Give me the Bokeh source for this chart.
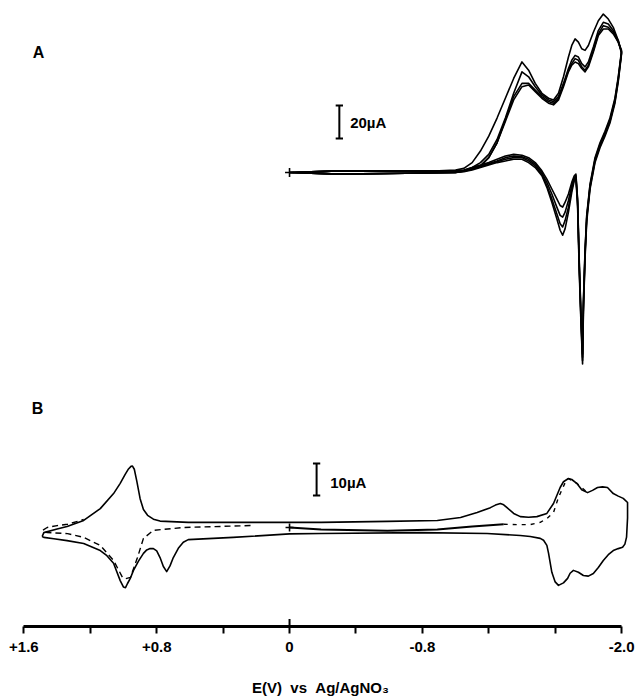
from bokeh.plotting import figure
from bokeh.models import Range1d, FixedTicker, Label
from bokeh.embed import file_html
from bokeh.resources import INLINE

# ---------------- Panel A: repeated scans 0 -> -2.0 V -> 0 (current, uA; cathodic up)
EA_FWD = [0.00, -0.30, -0.60, -0.90, -1.00, -1.05, -1.10, -1.15, -1.20, -1.25, -1.30, -1.35,
          -1.40, -1.44, -1.48, -1.52, -1.56, -1.59, -1.62, -1.65, -1.68, -1.70, -1.72, -1.74,
          -1.76, -1.78, -1.80, -1.83, -1.86, -1.89, -1.92, -1.95, -1.98, -2.00]
IA_FWD_1 = [0, 1, 1, 1, 1.5, 2.5, 6, 13, 22, 33, 45, 57, 67, 62, 54, 48, 45, 44, 48, 58,
            70, 77, 81, 79, 75, 74, 77, 85, 92, 96, 93, 88, 80, 72]
IA_FWD_2 = [0, 1, 1, 1, 1, 1.5, 3, 6, 11, 20, 33, 48, 61, 58, 52, 47, 44, 43, 46, 54,
            63, 68, 71, 70, 66, 64, 67, 76, 86, 91, 90, 86, 80, 73]
IA_FWD_3 = [0, 1, 1, 1, 1, 1.2, 2, 4, 9, 18, 32, 46, 54, 54, 50, 46, 43, 42, 45, 53,
            62, 66, 69, 68, 64, 62, 65, 74, 84, 89, 88, 85, 79, 73]
IA_FWD_4 = [0, 1, 1, 1, 1, 1.2, 2, 4, 9, 18, 31, 44, 52, 53, 49, 45, 42, 41, 44, 52,
            61, 65, 67, 66, 63, 61, 64, 73, 83, 87, 87, 84, 79, 74]

EA_REV = [-2.00, -1.98, -1.96, -1.93, -1.90, -1.87, -1.84, -1.81, -1.79, -1.78,
          -1.77, -1.765, -1.755, -1.745, -1.735, -1.725, -1.715, -1.70, -1.68, -1.66,
          -1.645, -1.63, -1.61, -1.58, -1.55, -1.52, -1.48, -1.44, -1.40, -1.35,
          -1.30, -1.25, -1.20, -1.15, -1.10, -1.05, -1.00, -0.70, -0.30, 0.00]
IA_REV_1 = [72, 55, 42, 30, 22, 15, 6, -10, -30, -52, -85, -116, -90, -60, -20, -4, -5, -12, -24, -34,
            -38, -35, -28, -18, -9, -2, 3, 6, 8, 8, 7, 6, 4.5, 3, 1.5, 0.5, 0, -0.5, -1, 0]
IA_REV_2 = [73, 56, 43, 31, 23, 16, 7, -9, -28, -50, -83, -114, -88, -57, -18, -3, -4, -10, -21, -29,
            -33, -31, -25, -16, -8, -1, 4, 7, 9, 9, 8, 6.5, 5, 3.5, 2, 0.8, 0, -0.5, -1, 0]
IA_REV_3 = [73, 57, 44, 32, 24, 17, 8, -8, -27, -48, -80, -112, -86, -55, -17, -2, -3, -8, -17, -24,
            -27, -26, -21, -13, -6, 0, 5, 8, 9.5, 10, 9, 7, 5.5, 4, 2.5, 1, 0, -0.5, -1, 0]
IA_REV_4 = [74, 58, 45, 33, 25, 18, 9, -7, -26, -47, -78, -110, -84, -53, -16, -1, -2, -6, -13, -18,
            -21, -20, -16, -10, -4, 1, 6, 9, 10.5, 11, 10, 8, 6, 4.5, 3, 1.2, 0, -0.5, -1, 0]

# ---------------- Panel B: full range scan (current, uA)
EB_UP = [1.49, 1.48, 1.40, 1.34, 1.24, 1.14, 1.06, 1.02, 0.99, 0.97, 0.955, 0.946, 0.935, 0.92,
         0.90, 0.88, 0.855, 0.82, 0.78, 0.61, 0.34, 0.0, -0.19, -0.59, -0.89, -1.03, -1.13, -1.21,
         -1.24, -1.27, -1.29, -1.31, -1.35, -1.39, -1.44, -1.49, -1.55, -1.59, -1.63, -1.65,
         -1.68, -1.70, -1.73, -1.76, -1.795, -1.825, -1.855, -1.885, -1.915, -1.95, -1.98,
         -2.01, -2.036]
IB_UP = [-2.8, -1.6, -0.5, 0.3, 2.2, 5.9, 10.6, 13.8, 16.6, 18.3, 19.1, 19.2, 18.2, 14.5,
         9.0, 5.6, 3.8, 2.6, 2.0, 1.6, 1.6, 1.6, 1.6, 1.9, 2.2, 3.1, 4.7, 6.2,
         7.0, 7.5, 7.1, 6.2, 4.4, 3.4, 3.2, 3.4, 4.4, 7.5, 12.5, 14.3,
         15.3, 15.0, 13.8, 11.8, 10.9, 11.6, 12.5, 12.7, 12.5, 10.6, 9.8,
         9.1, 7.8]
EB_DN = [-2.036, -2.03, -2.02, -2.006, -1.98, -1.95, -1.92, -1.89, -1.86, -1.83, -1.80, -1.77,
         -1.74, -1.71, -1.69, -1.675, -1.65, -1.62, -1.60, -1.58, -1.56, -1.55, -1.53, -1.51,
         -1.45, -1.39, -1.19, -0.79, -0.19, 0.0, 0.34, 0.61, 0.64, 0.67, 0.70, 0.72, 0.74, 0.76,
         0.78, 0.80, 0.82, 0.84, 0.86, 0.88, 0.91, 0.94, 0.96, 0.976, 0.988, 1.00, 1.02, 1.06,
         1.10, 1.14, 1.24, 1.34, 1.42, 1.48, 1.49]
IB_DN = [3.0, -3.0, -5.2, -6.2, -6.6, -7.2, -8.5, -10.3, -12.5, -14.4, -15.2, -15.0,
         -14.0, -13.4, -14.3, -15.9, -17.3, -18.1, -17.0, -14.0, -8.0, -5.6, -4.0, -3.4,
         -2.8, -2.5, -1.9, -1.6, -1.9, -2.0, -3.1, -3.8, -4.6, -6.5, -9.4, -12.0, -13.8, -12.2,
         -9.4, -7.3, -6.6, -6.6, -7.0, -8.1, -10.5, -13.4, -16.0, -17.5, -18.8, -18.6, -16.6, -11.2,
         -8.8, -7.2, -5.0, -4.1, -3.5, -3.1, -2.8]
EB_INIT = [0.0, -0.19, -0.59, -0.89, -1.10, -1.29]
IB_INIT = [0.0, -0.6, -1.0, -0.6, 0.3, 1.0]
EB_DASH_L = [0.235, 0.64, 0.82, 0.88, 0.916, 0.958, 0.988, 1.006, 1.06, 1.14, 1.24, 1.337,
             1.46, 1.488, 1.46, 1.40, 1.337, 1.24]
IB_DASH_L = [0.6, 0.0, -0.9, -3.4, -9.4, -15.6, -16.0, -15.6, -10.3, -5.6, -3.1, -1.9,
             -1.6, -0.9, 0.0, 0.6, 1.0, 2.5]
EB_DASH_R = [-1.29, -1.373, -1.45, -1.51, -1.55, -1.59, -1.62, -1.66, -1.68, -1.73, -1.795]
IB_DASH_R = [1.0, 0.9, 0.9, 1.6, 2.8, 4.7, 9.4, 14.0, 15.3, 13.8, 10.9]

# axis ticks
TICKS = [1.6, 1.2, 0.8, 0.4, 0.0, -0.4, -0.8, -1.2, -1.6, -2.0]
TICK_LABELS = ["+1.6", "", "+0.8", "", "0", "", "-0.8", "", "", "-2.0"]
SCALE_A_UA = 20
SCALE_B_UA = 10

FONT = "Liberation Sans"
NB = "\u00a0"
INK = "black"

p = figure(frame_width=640, frame_height=626,
           x_range=Range1d(1.741, -2.114), y_range=Range1d(-275.15, 104.24),
           output_backend="svg", toolbar_location=None, min_border=0,
           y_axis_location=None, outline_line_color=None,
           background_fill_color="white", border_fill_color="white")
p.extra_y_ranges = {"B": Range1d(-30.94, 164.69)}
p.grid.visible = False

# Panel A curves
for f, r in [(IA_FWD_1, IA_REV_1), (IA_FWD_2, IA_REV_2), (IA_FWD_3, IA_REV_3), (IA_FWD_4, IA_REV_4)]:
    p.line(EA_FWD + EA_REV, f + r, line_color=INK, line_width=1.6, line_join="round")
p.scatter([0.0], [0.0], marker="cross", size=9, line_width=1.6, color=INK)

# Panel B curves
p.line(EB_UP + EB_DN, IB_UP + IB_DN, y_range_name="B", line_color=INK, line_width=1.6,
       line_join="round")
p.line(EB_INIT, IB_INIT, y_range_name="B", line_color=INK, line_width=2.0)
p.line(EB_DASH_L, IB_DASH_L, y_range_name="B", line_color=INK, line_width=1.4, line_dash="6 4")
p.line(EB_DASH_R, IB_DASH_R, y_range_name="B", line_color=INK, line_width=1.4, line_dash="4 5")
p.scatter([0.0], [0.0], y_range_name="B", marker="cross", size=8, line_width=1.6, color=INK)

# scale bars
a_x, a_y0 = -0.30, 20.6
p.segment([a_x], [a_y0], [a_x], [a_y0 + SCALE_A_UA], line_color=INK, line_width=2)
p.segment([a_x - 0.022, a_x - 0.022], [a_y0, a_y0 + SCALE_A_UA], [a_x + 0.022, a_x + 0.022],
          [a_y0, a_y0 + SCALE_A_UA], line_color=INK, line_width=2)
p.add_layout(Label(x=-0.365, y=a_y0 + SCALE_A_UA / 2, text=f"{SCALE_A_UA}\u00b5A",
                   text_font=FONT, text_font_style="bold", text_font_size="15px",
                   text_color=INK, text_baseline="middle", text_align="left"))
b_x, b_y0 = -0.163, 10.0
p.segment([b_x], [b_y0], [b_x], [b_y0 + SCALE_B_UA], y_range_name="B", line_color=INK, line_width=2)
p.segment([b_x - 0.022, b_x - 0.022], [b_y0, b_y0 + SCALE_B_UA], [b_x + 0.022, b_x + 0.022],
          [b_y0, b_y0 + SCALE_B_UA], y_range_name="B", line_color=INK, line_width=2)
p.add_layout(Label(x=-0.245, y=b_y0 + SCALE_B_UA * 0.4, y_range_name="B", text=f"{SCALE_B_UA}\u00b5A",
                   text_font=FONT, text_font_style="bold", text_font_size="15px",
                   text_color=INK, text_baseline="middle", text_align="left"))

# panel letters
p.add_layout(Label(x=1.512, y=72.7, text="A", text_font=FONT, text_font_style="bold",
                   text_font_size="16px", text_color=INK, text_baseline="middle", text_align="center"))
p.add_layout(Label(x=1.518, y=37.2, y_range_name="B", text="B", text_font=FONT,
                   text_font_style="bold", text_font_size="16px", text_color=INK,
                   text_baseline="middle", text_align="center"))

# zero tick extends above the axis line
p.segment([0.0], [-28.6], [0.0], [-30.94], y_range_name="B", line_color=INK, line_width=2)

ax = p.xaxis[0]
ax.ticker = FixedTicker(ticks=TICKS, minor_ticks=[])
ax.major_label_overrides = {t: l for t, l in zip(TICKS, TICK_LABELS)}
ax.bounds = (-2.0, 1.6)
ax.axis_line_width = 3
ax.axis_line_color = INK
ax.major_tick_line_width = 2
ax.major_tick_line_color = INK
ax.major_tick_out = 7
ax.major_tick_in = 0
ax.major_label_standoff = 8
ax.major_label_text_font = FONT
ax.major_label_text_font_style = "bold"
ax.major_label_text_font_size = "15px"
ax.major_label_text_color = INK
ax.axis_label = f"E(V){NB}{NB}vs{NB}{NB}Ag/AgNO\u2083"
ax.axis_label_text_font = FONT
ax.axis_label_text_font_style = "bold"
ax.axis_label_text_font_size = "15px"
ax.axis_label_text_color = INK
ax.axis_label_standoff = 24

open("out.html", "w").write(file_html(p, INLINE))
